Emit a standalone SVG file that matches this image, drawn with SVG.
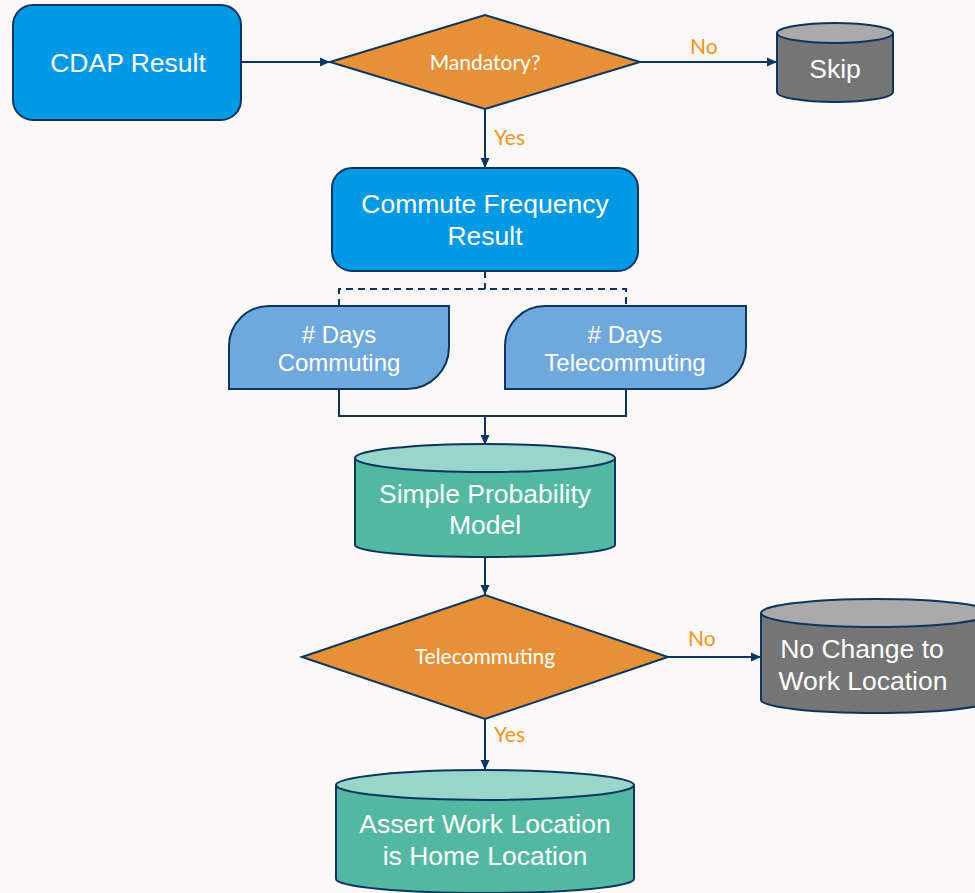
<svg xmlns="http://www.w3.org/2000/svg" width="975" height="893" viewBox="0 0 975 893">
<defs>
<marker id="arr" viewBox="0 0 10 10" refX="10" refY="5" markerWidth="10" markerHeight="10" markerUnits="userSpaceOnUse" orient="auto">
<path d="M0,0.5 L10,5 L0,9.5 Z" fill="#0d3560"/>
</marker>
<style>
.stk{stroke:#0d3560;stroke-width:2}
.blue{fill:#0099e3}
.lblue{fill:#6fa8dc}
.orange{fill:#e69138}
.gray{fill:#757575}
.grayt{fill:#aaaaaa}
.teal{fill:#52b8a2}
.tealt{fill:#98d6c9}
.t{font-family:"Liberation Sans",Arial,sans-serif;font-size:26.5px;fill:#ffffff;text-anchor:middle}
.s{font-size:24px}
.d{font-family:Lato,"Liberation Sans",sans-serif;font-size:21px;fill:#ffffff;text-anchor:middle}
.lab{font-family:Lato,"Liberation Sans",sans-serif;font-size:21px;fill:#f7931e}
.c{fill:none;stroke:#0d3560;stroke-width:2}
.dash{stroke-dasharray:7,5}
</style>
</defs>
<rect width="975" height="893" fill="#fbf8f9"/>

<g id="connectors">
<path class="c" d="M241,62 H330" marker-end="url(#arr)"/>
<path class="c" d="M640,62 H777" marker-end="url(#arr)"/>
<path class="c" d="M485,109 V168" marker-end="url(#arr)"/>
<path class="c dash" d="M485,271 V289 M339,306 V289 H626 V306"/>
<path class="c" d="M339,389 V416 H626 V389"/>
<path class="c" d="M485,416 V445" marker-end="url(#arr)"/>
<path class="c" d="M485,557 V595" marker-end="url(#arr)"/>
<path class="c" d="M668,657 H761" marker-end="url(#arr)"/>
<path class="c" d="M485,719 V770" marker-end="url(#arr)"/>
<text class="lab" x="690" y="54">No</text>
<text class="lab" x="494" y="145">Yes</text>
<text class="lab" x="688" y="646">No</text>
<text class="lab" x="494" y="742">Yes</text>
</g>

<g id="cdap">
<rect class="blue stk" x="13" y="5" width="228" height="115" rx="20"/>
<text class="t" x="128" y="72">CDAP Result</text>
</g>

<g id="mandatory">
<polygon class="orange stk" points="330,62 485,15 640,62 485,109"/>
<text class="d" x="485" y="70">Mandatory?</text>
</g>

<g id="skip">
<path class="gray stk" d="M777,33 V92 A58,10 0 0 0 893,92 V33"/>
<ellipse class="grayt stk" cx="835" cy="33" rx="58" ry="10"/>
<text class="t" x="835" y="78">Skip</text>
</g>

<g id="commute">
<rect class="blue stk" x="332" y="168" width="306" height="103" rx="20"/>
<text class="t" x="485" y="213">Commute Frequency</text>
<text class="t" x="485" y="245">Result</text>
</g>

<g id="days-commuting">
<path class="lblue stk" d="M269,306 H449 V347 A42,42 0 0 1 407,389 H229 V346 A40,40 0 0 1 269,306 Z"/>
<text class="t s" x="339" y="343"># Days</text>
<text class="t s" x="339" y="371">Commuting</text>
</g>

<g id="days-telecommuting">
<path class="lblue stk" d="M545,306 H746 V347 A42,42 0 0 1 704,389 H505 V346 A40,40 0 0 1 545,306 Z"/>
<text class="t s" x="625" y="343"># Days</text>
<text class="t s" x="625" y="371">Telecommuting</text>
</g>

<g id="simple-model">
<path class="teal stk" d="M355,458 V545 A130,12 0 0 0 615,545 V458"/>
<ellipse class="tealt stk" cx="485" cy="458" rx="130" ry="14"/>
<text class="t" x="485" y="503">Simple Probability</text>
<text class="t" x="485" y="534">Model</text>
</g>

<g id="telecommuting">
<polygon class="orange stk" points="302,657 485,595 668,657 485,719"/>
<text class="d" x="485" y="664">Telecommuting</text>
</g>

<g id="no-change">
<path class="gray stk" d="M761,613 V700 A115,13 0 0 0 991,700 V613"/>
<ellipse class="grayt stk" cx="876" cy="613" rx="115" ry="14"/>
<text class="t" x="862" y="658">No Change to</text>
<text class="t" x="863" y="690">Work Location</text>
</g>

<g id="assert">
<path class="teal stk" d="M336,785 V879 A149,14 0 0 0 634,879 V785"/>
<ellipse class="tealt stk" cx="485" cy="785" rx="149" ry="15"/>
<text class="t" x="485" y="833">Assert Work Location</text>
<text class="t" x="485" y="865">is Home Location</text>
</g>
</svg>
